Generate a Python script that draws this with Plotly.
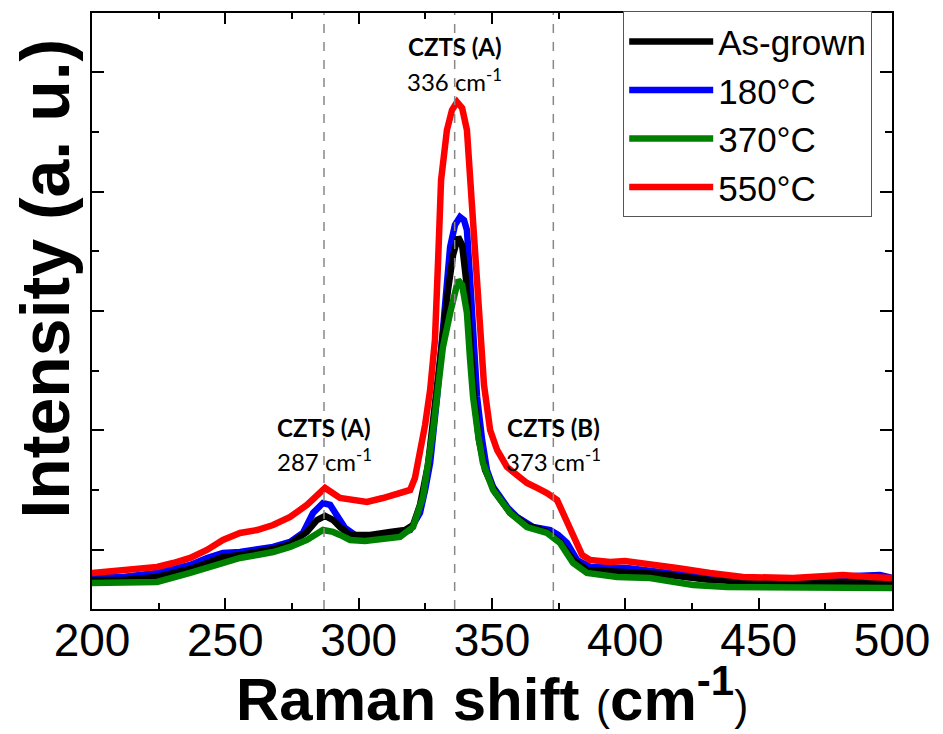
import plotly.graph_objects as go

# ---- data (Raman shift in cm^-1, intensity in arbitrary units) ----
x_asgrown = [200, 211.6, 224.4, 236.8, 243.1, 249.1, 255.5, 261.9, 267.9, 274.3, 280.6, 284.4, 287.4,
             290.4, 293, 296.8, 304.3, 311.8, 317.4, 320.4, 323, 326, 328.6, 331.3, 333.5, 335.4, 337.3,
             338.8, 340.3, 341.8, 343.3, 345.1, 347.4, 351.1, 356.8, 363.1, 370.6, 375.5, 380.4, 385.6,
             398, 413, 431.8, 450.5, 475.6, 500]
y_asgrown = [749, 749, 774, 841, 891, 941, 958, 983, 1008, 1050, 1151, 1251, 1285,
             1251, 1192, 1126, 1126, 1151, 1167, 1209, 1377, 1711, 2255, 2757, 3176, 3469, 3619,
             3552, 3259, 2757, 2280, 1920, 1669, 1485, 1310, 1209, 1151, 1067, 916, 833,
             816, 799, 749, 732, 732, 732]

x_180 = [200, 211.6, 224.4, 236.8, 243.1, 249.1, 255.5, 261.9, 267.9, 274.3, 279.1, 282.9, 286.6,
         289.3, 291.9, 294.9, 298.6, 304.3, 309.9, 315.5, 319.3, 323, 324.9, 326.8, 329.4, 331.3,
         332.4, 334.3, 336.1, 338, 339.5, 340.6, 341.8, 342.9, 344.4, 346.3, 348.1, 350.4, 353, 356,
         359.4, 365.4, 371.8, 374.8, 378.1, 381.9, 386.8, 400.6, 413, 431.8, 450.5, 475.6, 495.5, 500]
y_180 = [774, 774, 808, 874, 933, 975, 983, 1000, 1025, 1067, 1142, 1310, 1393,
         1377, 1293, 1184, 1126, 1109, 1126, 1142, 1167, 1310, 1502, 1728, 2280, 2757,
         3117, 3535, 3720, 3787, 3761, 3678, 3259, 2757, 2280, 1920, 1669, 1527, 1444, 1351,
         1276, 1192, 1167, 1126, 1059, 916, 858, 849, 816, 766, 749, 766, 791, 766]

x_370 = [200, 211.6, 224.4, 236.8, 243.1, 249.1, 255.5, 261.9, 267.9, 274.3, 280.6, 286.6, 290.4,
         293, 296.8, 302.4, 308, 315.5, 320.4, 324.1, 327.9, 331.6, 334.3, 336.1, 337.3, 338.8,
         340.6, 341.8, 342.9, 344.8, 346.6, 350.4, 356.8, 363.1, 370.6, 375.5, 380.4, 385.6, 396.9,
         409.3, 425.4, 438.1, 462.9, 481.6, 500]
y_370 = [724, 724, 732, 808, 849, 900, 933, 958, 983, 1025, 1084, 1167, 1151,
         1126, 1084, 1075, 1084, 1109, 1192, 1444, 2004, 2699, 2983, 3176, 3259, 3218,
         2983, 2590, 2280, 1962, 1728, 1502, 1310, 1192, 1142, 1059, 891, 808, 774,
         766, 707, 690, 690, 690, 682]

x_550 = [200, 211.6, 218, 224.4, 230.4, 236.8, 243.1, 249.1, 255.5, 261.9, 267.9, 274.3, 280.6, 287.4,
         293, 296.8, 303.1, 309.1, 316.6, 319.3, 321.1, 323, 324.9, 326.8, 328.6, 329.8, 330.9, 333.1,
         335, 336.9, 338.8, 340.6, 341.8, 342.9, 344, 345.5, 347, 349.3, 351.9, 355.6, 359.4, 363.1,
         366.9, 370.6, 374.4, 378.1, 381.1, 383.8, 386.8, 394.3, 399.9, 406.6, 419.4, 431.8, 444.1,
         462.9, 481.6, 491.8, 500]
y_550 = [808, 833, 841, 858, 891, 933, 1000, 1084, 1142, 1167, 1209, 1276, 1377, 1519,
         1435, 1418, 1402, 1435, 1485, 1502, 1602, 1795, 2046, 2339, 2757, 3427, 4096, 4515,
         4682, 4749, 4699, 4515, 4096, 3678, 3259, 2757, 2381, 2004, 1837, 1695, 1619, 1561,
         1519, 1477, 1418, 1226, 1084, 958, 916, 900, 908, 891, 849, 808, 774,
         766, 791, 774, 766]

peak_positions = [287, 336, 373]
peak_names = ["CZTS (A)", "CZTS (A)", "CZTS (B)"]
peak_labels = ["287 cm<sup>-1</sup>", "336 cm<sup>-1</sup>", "373 cm<sup>-1</sup>"]
peak_name_y = [0.3037, 0.9446, 0.3037]
peak_label_y = [0.250, 0.8876, 0.250]

series = [
    ("180°C", x_180, y_180, "#0000FF", 2),
    ("As-grown", x_asgrown, y_asgrown, "#000000", 1),
    ("370°C", x_370, y_370, "#008000", 3),
    ("550°C", x_550, y_550, "#FF0000", 4),
]

fig = go.Figure()
for name, xs, ys, color, rank in series:
    fig.add_trace(go.Scatter(x=xs, y=ys, mode="lines", name=name, legendrank=rank,
                             line=dict(color=color, width=6.5)))

for xp in peak_positions:
    fig.add_shape(type="line", xref="x", yref="paper", x0=xp, x1=xp, y0=0, y1=1,
                  line=dict(color="#888888", width=1.5, dash="dash"))

for xp, nm, lb, yn, yl in zip(peak_positions, peak_names, peak_labels, peak_name_y, peak_label_y):
    fig.add_annotation(x=xp, y=yn, xref="x", yref="paper", text="<b>" + nm + "</b>",
                       showarrow=False, font=dict(family="Lato", size=24, color="black"),
                       yanchor="middle")
    fig.add_annotation(x=xp, y=yl, xref="x", yref="paper", text=lb,
                       showarrow=False, font=dict(family="Lato", size=24, color="black"),
                       yanchor="middle")

fig.add_annotation(x=-0.059, y=0.554, xref="paper", yref="paper", textangle=-90,
                   text="<b>Intensity (a. u.)</b>", showarrow=False,
                   font=dict(family="Liberation Sans", size=68, color="black"),
                   xanchor="center", yanchor="middle")

fig.add_annotation(x=0.5, y=-0.077, xref="paper", yref="paper",
                   text="<b>Raman shift </b><span style='font-size:42px'>(</span><b>cm<sup>-1</sup></b><span style='font-size:42px'>)</span>",
                   showarrow=False, font=dict(family="Liberation Sans", size=60, color="black"),
                   xanchor="center", yanchor="top")

axis_common = dict(showline=True, linecolor="black", linewidth=2, mirror="allticks",
                   ticks="inside", tickcolor="black", tickwidth=2, showgrid=False, zeroline=False)

fig.update_xaxes(range=[200, 500], tick0=200, dtick=50, ticklen=11, ticklabelstandoff=-10,
                 minor=dict(dtick=25, ticklen=6, ticks="inside", tickcolor="black", tickwidth=2),
                 tickfont=dict(family="Liberation Sans", size=46, color="black"),
                 **axis_common)
fig.update_yaxes(range=[506, 5494], tick0=0, dtick=1000, ticklen=12, showticklabels=False,
                 minor=dict(dtick=500, ticklen=7, ticks="inside", tickcolor="black", tickwidth=2),
                 **axis_common)

fig.update_layout(
    width=935, height=726,
    margin=dict(l=84, r=51, t=5, b=125, autoexpand=False),
    paper_bgcolor="white", plot_bgcolor="white",
    showlegend=True,
    legend=dict(x=0.664, y=1.003, xanchor="left", yanchor="top",
                bgcolor="white", bordercolor="#555555", borderwidth=1,
                font=dict(family="Liberation Sans", size=35, color="black"),
                tracegroupgap=0, itemwidth=84),
)

fig.write_html("out.html")
